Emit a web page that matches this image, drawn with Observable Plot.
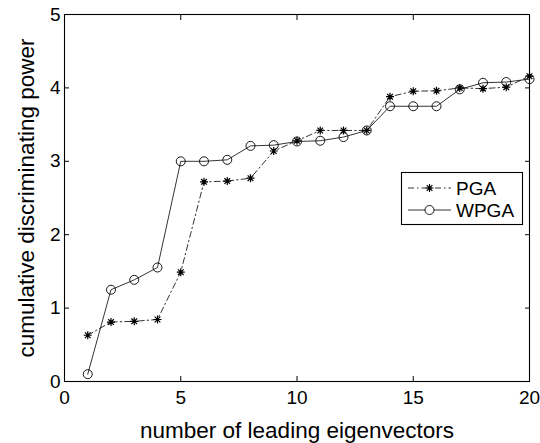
<!DOCTYPE html>
<html>
<head>
<meta charset="utf-8">
<script src="https://cdn.jsdelivr.net/npm/d3@7"></script>
<script src="https://cdn.jsdelivr.net/npm/@observablehq/plot@0.6"></script>
<style>
  html, body { margin: 0; padding: 0; background: #fff; }
  svg { font-family: "Liberation Sans", Arial, Helvetica, sans-serif; }
</style>
</head>
<body>
<div id="chart"></div>
<script>
const nVectors = [1,2,3,4,5,6,7,8,9,10,11,12,13,14,15,16,17,18,19,20];
const pga  = [0.63,0.81,0.82,0.845,1.49,2.72,2.73,2.77,3.14,3.28,3.42,3.42,3.42,3.88,3.955,3.96,4.00,3.99,4.01,4.16];
const wpga = [0.10,1.25,1.385,1.553,3.00,3.00,3.02,3.21,3.22,3.27,3.28,3.33,3.42,3.75,3.75,3.75,3.98,4.07,4.08,4.12];
const xTicks = [0,5,10,15,20];
const yTicks = [0,1,2,3,4,5];
const seriesNames = ["PGA","WPGA"];
const xLabel = "number of leading eigenvectors";
const yLabel = "cumulative discriminating power";

const dataPGA = nVectors.map((n,i) => ({n, v: pga[i]}));
const dataWPGA = nVectors.map((n,i) => ({n, v: wpga[i]}));

const asterisk = {
  draw(ctx, size) {
    const r = Math.sqrt(size / Math.PI);
    const d = r * Math.SQRT1_2;
    ctx.moveTo(-r, 0); ctx.lineTo(r, 0);
    ctx.moveTo(0, -r); ctx.lineTo(0, r);
    ctx.moveTo(-d, -d); ctx.lineTo(d, d);
    ctx.moveTo(-d, d); ctx.lineTo(d, -d);
  }
};

const dashDot = "6,3,1.5,3";
const tickFont = 19;
const labelFont = 22.5;

const chart = Plot.plot({
  width: 540,
  height: 443,
  marginLeft: 64,
  marginRight: 11,
  marginTop: 14,
  marginBottom: 62,
  style: {fontFamily: "Liberation Sans, Arial, sans-serif", fontSize: tickFont + "px", color: "#000", background: "#fff"},
  x: {domain: [0, 20], ticks: xTicks},
  y: {domain: [0, 5], ticks: yTicks},
  marks: [
    Plot.frame({stroke: "#000", strokeWidth: 1.1}),
    Plot.axisX({anchor: "bottom", ticks: xTicks, tickSize: 0, tickPadding: 9, fontSize: tickFont, tickFormat: d3.format("d"), label: null}),
    Plot.axisX({anchor: "bottom", ticks: [], label: xLabel, labelAnchor: "center", labelArrow: "none", labelOffset: 56, fontSize: labelFont}),
    Plot.axisX({anchor: "bottom", ticks: xTicks, tickSize: -5, text: null, label: null}),
    Plot.axisX({anchor: "top", ticks: xTicks, tickSize: -5, text: null, label: null}),
    Plot.axisY({anchor: "left", ticks: yTicks, tickSize: 0, tickPadding: 4, fontSize: tickFont, tickFormat: d3.format("d"), label: null}),
    Plot.axisY({anchor: "left", ticks: [], label: yLabel, labelAnchor: "center", labelArrow: "none", labelOffset: 46, fontSize: labelFont, dy: -8}),
    Plot.axisY({anchor: "left", ticks: yTicks, tickSize: -5, text: null, label: null}),
    Plot.axisY({anchor: "right", ticks: yTicks, tickSize: -5, text: null, label: null}),
    Plot.line(dataPGA, {x: "n", y: "v", stroke: "#000", strokeWidth: 0.8, strokeDasharray: dashDot}),
    Plot.dot(dataPGA, {x: "n", y: "v", symbol: asterisk, r: 4, stroke: "#000", strokeWidth: 1.2}),
    Plot.line(dataWPGA, {x: "n", y: "v", stroke: "#000", strokeWidth: 0.8}),
    Plot.dot(dataWPGA, {x: "n", y: "v", symbol: "circle", r: 4.5, stroke: "#000", fill: "none", strokeWidth: 0.9})
  ]
});

// Legend (drawn into the plot's svg)
const svg = d3.select(chart);
const lg = svg.append("g").attr("class", "legend");
lg.append("rect").attr("x", 401.5).attr("y", 172.5).attr("width", 121).attr("height", 52)
  .attr("fill", "#fff").attr("stroke", "#000").attr("stroke-width", 1.1);
const rows = [
  {name: seriesNames[0], y: 188, dash: dashDot, sym: asterisk, r: 4},
  {name: seriesNames[1], y: 210, dash: null, sym: d3.symbolCircle, r: 4.5}
];
rows.forEach(row => {
  lg.append("line").attr("x1", 408).attr("x2", 451).attr("y1", row.y).attr("y2", row.y)
    .attr("stroke", "#000").attr("stroke-width", 0.8).attr("stroke-dasharray", row.dash);
  lg.append("path").attr("transform", `translate(429.5,${row.y})`)
    .attr("d", d3.symbol(row.sym, row.r * row.r * Math.PI)())
    .attr("stroke", "#000").attr("stroke-width", row.sym === asterisk ? 1.2 : 0.9)
    .attr("fill", row.sym === asterisk ? "none" : "#fff");
  lg.append("text").attr("x", 456).attr("y", row.y).attr("dy", "0.36em")
    .attr("text-anchor", "start")
    .attr("font-size", tickFont).attr("fill", "#000").text(row.name);
});

document.getElementById("chart").appendChild(chart);
</script>
</body>
</html>
